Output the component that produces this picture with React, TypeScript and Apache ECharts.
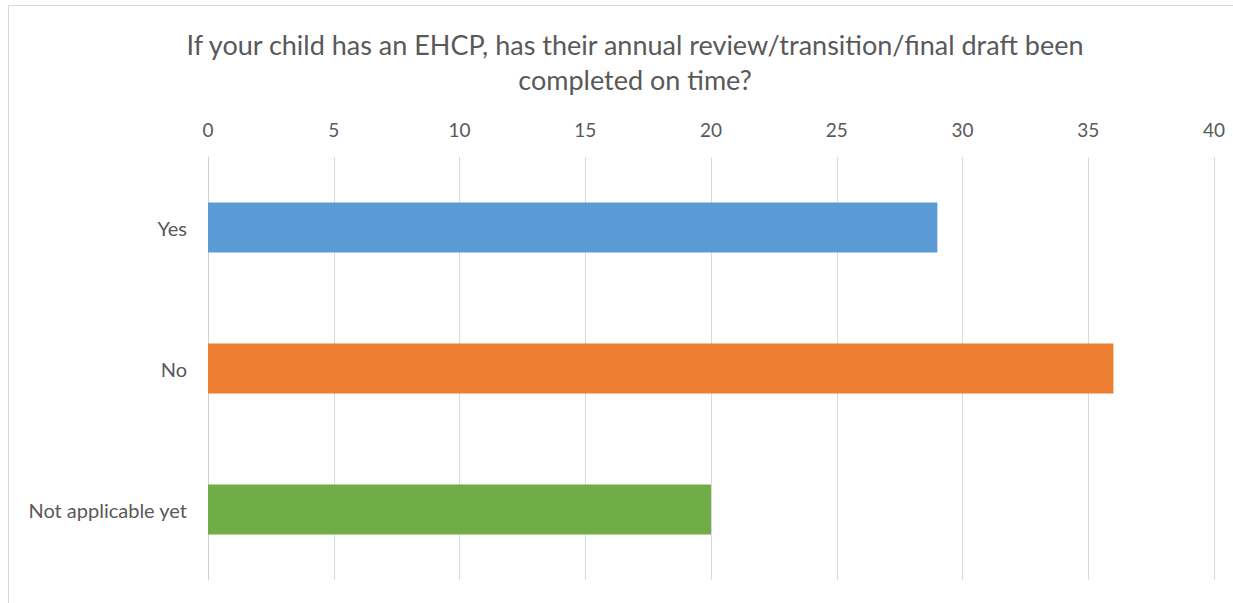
import React, { useEffect, useRef } from "react";
import * as echarts from "echarts";

const categories = ["Yes", "No", "Not applicable yet"];
const values = [29, 36, 20];
const colors = ["#5b9bd5", "#ed7d31", "#70ad47"];
const titleText = "If your child has an EHCP, has their annual review/transition/final draft been\ncompleted on time?";

export default function App() {
  const ref = useRef<HTMLDivElement>(null);
  useEffect(() => {
    document.body.style.margin = "0";
    const chart = echarts.init(ref.current!, null, { renderer: "svg" });
    const font = "Lato";
    chart.setOption({
      animation: false,
      backgroundColor: "#ffffff",
      title: {
        text: titleText,
        left: 630,
        top: 22,
        textAlign: "center",
        textStyle: { fontFamily: font, fontSize: 27, fontWeight: "normal", color: "#595959", lineHeight: 35 },
      },
      graphic: [
        {
          type: "rect",
          shape: { x: 8.5, y: 5.5, width: 1400, height: 800 },
          style: { fill: "none", stroke: "#d9d9d9", lineWidth: 1 },
          silent: true,
        },
      ],
      grid: { left: 208, right: 19, top: 157, bottom: 23, containLabel: false },
      xAxis: {
        type: "value",
        position: "top",
        min: 0,
        max: 40,
        interval: 5,
        axisLine: { show: false },
        axisTick: { show: false },
        axisLabel: { fontFamily: font, fontSize: 19, color: "#595959", margin: 18 },
        splitLine: { show: true, lineStyle: { color: "#d9d9d9", width: 1 } },
      },
      yAxis: {
        type: "category",
        data: categories,
        inverse: true,
        axisLine: { show: true, lineStyle: { color: "#d0d0d0", width: 1 } },
        axisTick: { show: false },
        axisLabel: { fontFamily: font, fontSize: 20, color: "#595959", margin: 21 },
      },
      series: [
        {
          type: "bar",
          barWidth: 50,
          data: values.map((v, i) => ({ value: v, itemStyle: { color: colors[i] } })),
        },
      ],
    });
    return () => chart.dispose();
  }, []);
  return <div ref={ref} style={{ width: 1233, height: 603 }} />;
}
